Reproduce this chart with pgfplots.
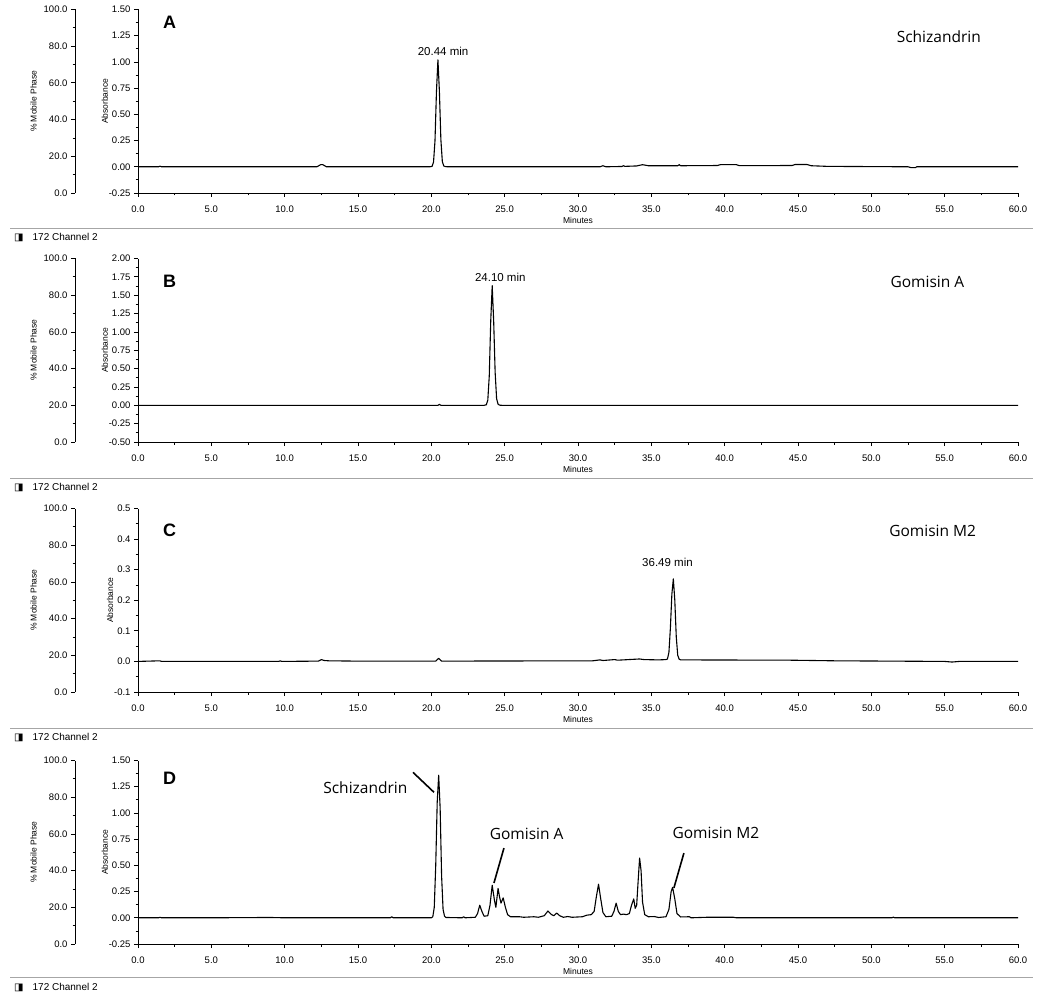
\documentclass[border=0pt]{standalone}
\usepackage{fontspec}
\setmainfont{Liberation Sans}
\newfontfamily\lblfont{Open Sans}
\newfontfamily\symfont{DejaVu Sans}
\usepackage{pgfplots}
\pgfplotsset{compat=1.18}

\pgfplotstableread{
x y
0 0
1.4 0
1.5 0.006
1.6 0
12.2 0
12.45 0.02
12.6 0.02
12.85 0
19.9 0
20.05 0.004
20.15 0.045
20.25 0.25
20.35 0.72
20.45 1.02
20.55 0.72
20.65 0.26
20.75 0.05
20.85 0.008
20.95 0.002
21.1 0
31.5 0
31.7 0.01
31.9 0
33.0 0.003
33.1 0.01
33.2 0.004
34.0 0.008
34.4 0.02
34.8 0.01
36.8 0.01
36.9 0.02
37.0 0.01
39.5 0.012
39.7 0.02
40.8 0.02
41.0 0.011
44.6 0.012
44.8 0.022
45.6 0.022
45.9 0.01
47.0 0.004
52.5 0
52.7 -0.008
53.0 -0.008
53.1 0
60 0
}\dataA

\pgfplotstableread{
x y
0 0
20.45 0
20.55 0.012
20.65 0
23.6 0
23.75 0.007
23.85 0.07
23.95 0.4
24.05 1.15
24.15 1.63
24.25 1.15
24.35 0.45
24.45 0.09
24.55 0.015
24.65 0.002
24.8 0
60 0
}\dataB

\pgfplotstableread{
x y
0 0
1.5 0.002
1.6 0
9.6 0
9.7 0.002
9.8 0
12.3 0.001
12.5 0.006
12.7 0.003
13.0 0.002
14.9 0.001
20.3 0.001
20.5 0.01
20.7 0.001
31.0 0.002
31.5 0.005
31.7 0.003
32.5 0.006
32.7 0.004
34.2 0.008
34.5 0.006
35.5 0.005
36.0 0.006
36.1 0.008
36.2 0.03
36.3 0.11
36.4 0.22
36.5 0.27
36.6 0.2
36.7 0.08
36.8 0.02
36.9 0.007
37.0 0.005
44.5 0.004
47.5 0.002
55.0 0
55.5 -0.002
56.0 0
60 0
}\dataC

\pgfplotstableread{
x y
0 0
1.4 0
1.5 0.005
1.6 0
5 0
9 0.003
10 0
17.2 0
17.3 0.01
17.4 0
20.0 0
20.1 0.01
20.2 0.1
20.3 0.5
20.4 1.1
20.5 1.36
20.6 1.05
20.7 0.4
20.8 0.08
20.9 0.015
21.0 0.003
22.1 0
22.2 0.01
22.3 0
23.0 0.005
23.15 0.04
23.3 0.12
23.45 0.06
23.6 0.015
23.85 0.02
24.0 0.12
24.15 0.31
24.3 0.17
24.4 0.1
24.55 0.28
24.65 0.2
24.75 0.14
24.9 0.19
25.05 0.1
25.2 0.03
25.4 0.01
26.0 0.01
26.3 0.005
27.0 0.01
27.3 0.005
27.7 0.02
27.95 0.065
28.2 0.03
28.35 0.02
28.55 0.045
28.75 0.02
29.0 0.005
29.3 0.012
29.6 0.005
30.3 0.01
30.6 0.025
30.9 0.03
31.1 0.06
31.25 0.2
31.4 0.32
31.55 0.18
31.7 0.05
31.9 0.01
32.3 0.015
32.45 0.06
32.6 0.14
32.75 0.06
32.9 0.03
33.1 0.035
33.3 0.03
33.5 0.04
33.65 0.12
33.8 0.18
33.9 0.09
34.0 0.12
34.1 0.35
34.2 0.57
34.3 0.45
34.4 0.15
34.55 0.03
34.8 0.01
35.2 0.012
35.5 0.003
36.0 0.01
36.2 0.08
36.35 0.25
36.45 0.29
36.6 0.18
36.75 0.04
37.0 0.008
37.6 0.01
37.7 0
38.8 0.005
40.6 0.005
40.8 0
51.4 0
51.5 0.006
51.6 0
60 0
}\dataD

\pgfplotsset{
  chrom/.style={
    scale only axis, width=880pt, height=183.5pt,
    xmin=0, xmax=60,
    axis x line=bottom, axis y line=left,
    axis line style={-, line width=0.9pt},
    tick align=outside,
    major tick length=4pt, minor tick length=2.5pt,
    tick style={black, line width=0.8pt},
    xtick={0,5,...,60}, minor x tick num=1,
    minor y tick num=1,
    /pgf/number format/assume math mode=true,
    x tick label style={/pgf/number format/.cd, fixed, fixed zerofill, precision=1, /tikz/.cd, yshift=-5pt},
    ticklabel style={font=\fontsize{9.5}{10}\selectfont},
    xlabel={Minutes},
    xlabel style={font=\fontsize{8.5}{9}\selectfont, inner sep=0pt, yshift=-2pt},
    ylabel={Absorbance},
    ylabel style={font=\fontsize{8.5}{9}\selectfont},
    ylabel shift=-6pt,
    clip=false,
  },
  mp/.style={
    scale only axis, width=10pt, height=183.5pt,
    xmin=0, xmax=1, ymin=0, ymax=100,
    axis y line=left, axis x line=none,
    axis line style={-, line width=0.9pt},
    tick align=outside,
    major tick length=4pt, minor tick length=2.5pt,
    tick style={black, line width=0.8pt},
    ytick={0,20,...,100}, minor y tick num=1,
    /pgf/number format/assume math mode=true,
    y tick label style={/pgf/number format/.cd, fixed, fixed zerofill, precision=1},
    ticklabel style={font=\fontsize{9.5}{10}\selectfont},
    ylabel={\% Mobile Phase},
    ylabel style={font=\fontsize{8.5}{9}\selectfont},
  },
  curve/.style={black, line width=1.1pt, line join=round},
}
\newcommand{\chan}[1]{%
  \draw[gray!70, line width=1pt] (10pt,-#1pt) -- (1033pt,-#1pt);}
\newcommand{\chantext}[1]{%
  \node[anchor=west, font=\fontsize{10}{11}\selectfont, inner sep=0pt] at (14pt,-#1pt) {{\symfont ◨}\hspace{9pt}172 Channel 2};}

\begin{document}
\begin{tikzpicture}
% ---------- Panel A ----------
\begin{axis}[mp, at={(75pt,-193pt)}, anchor=south west]
\addplot[draw=none] coordinates {(0,0)};
\end{axis}
\begin{axis}[chrom, at={(138pt,-193pt)}, anchor=south west,
  ymin=-0.25, ymax=1.5, ytick={-0.25,0,0.25,0.5,0.75,1,1.25,1.5},
  y tick label style={/pgf/number format/.cd, fixed, fixed zerofill, precision=2}]
\addplot[curve] table[x=x,y=y] {\dataA};
\node[font=\fontsize{18}{20}\selectfont\bfseries] at (rel axis cs:0.036,0.93) {A};
\node[font=\lblfont\fontsize{15.5}{17}\selectfont] at (rel axis cs:0.91,0.85) {Schizandrin};
\node[font=\fontsize{11.5}{13}\selectfont] at (axis cs:20.8,1.10) {20.44 min};
\end{axis}
\chan{229}
\chantext{237}

% ---------- Panel B ----------
\begin{axis}[mp, at={(75pt,-442pt)}, anchor=south west]
\addplot[draw=none] coordinates {(0,0)};
\end{axis}
\begin{axis}[chrom, at={(138pt,-442pt)}, anchor=south west,
  ymin=-0.5, ymax=2, ytick={-0.5,-0.25,0,0.25,0.5,0.75,1,1.25,1.5,1.75,2},
  y tick label style={/pgf/number format/.cd, fixed, fixed zerofill, precision=2}]
\addplot[curve] table[x=x,y=y] {\dataB};
\node[font=\fontsize{18}{20}\selectfont\bfseries] at (rel axis cs:0.036,0.875) {B};
\node[font=\lblfont\fontsize{15.5}{17}\selectfont] at (rel axis cs:0.897,0.875) {Gomisin A};
\node[font=\fontsize{11.5}{13}\selectfont] at (axis cs:24.7,1.745) {24.10 min};
\end{axis}
\chan{478}
\chantext{487}

% ---------- Panel C ----------
\begin{axis}[mp, at={(75pt,-692pt)}, anchor=south west]
\addplot[draw=none] coordinates {(0,0)};
\end{axis}
\begin{axis}[chrom, at={(138pt,-692pt)}, anchor=south west,
  ymin=-0.1, ymax=0.5, ytick={-0.1,0,0.1,0.2,0.3,0.4,0.5},
  y tick label style={/pgf/number format/.cd, fixed, fixed zerofill, precision=1}]
\addplot[curve] table[x=x,y=y] {\dataC};
\node[font=\fontsize{18}{20}\selectfont\bfseries] at (rel axis cs:0.036,0.88) {C};
\node[font=\lblfont\fontsize{15.5}{17}\selectfont] at (rel axis cs:0.903,0.88) {Gomisin M2};
\node[font=\fontsize{11.5}{13}\selectfont] at (axis cs:36.1,0.325) {36.49 min};
\end{axis}
\chan{728}
\chantext{737}

% ---------- Panel D ----------
\begin{axis}[mp, at={(75pt,-944pt)}, anchor=south west]
\addplot[draw=none] coordinates {(0,0)};
\end{axis}
\begin{axis}[chrom, at={(138pt,-944pt)}, anchor=south west,
  ymin=-0.25, ymax=1.5, ytick={-0.25,0,0.25,0.5,0.75,1,1.25,1.5},
  y tick label style={/pgf/number format/.cd, fixed, fixed zerofill, precision=2}]
\addplot[curve] table[x=x,y=y] {\dataD};
\node[font=\fontsize{18}{20}\selectfont\bfseries] at (rel axis cs:0.036,0.905) {D};
\node[font=\lblfont\fontsize{15.5}{17}\selectfont] at (axis cs:15.5,1.24) {Schizandrin};
\draw[line width=1.6pt] (axis cs:18.75,1.387) -- (axis cs:20.18,1.197);
\node[font=\lblfont\fontsize{15.5}{17}\selectfont] at (axis cs:26.5,0.80) {Gomisin A};
\draw[line width=1.6pt] (axis cs:24.95,0.665) -- (axis cs:24.27,0.332);
\node[font=\lblfont\fontsize{15.5}{17}\selectfont] at (axis cs:39.4,0.81) {Gomisin M2};
\draw[line width=1.6pt] (axis cs:37.22,0.617) -- (axis cs:36.54,0.285);
\end{axis}
\chan{977}
\chantext{987}

\pgfresetboundingbox
\path[use as bounding box] (0,0) rectangle (1052pt,-992pt);
\end{tikzpicture}
\end{document}
